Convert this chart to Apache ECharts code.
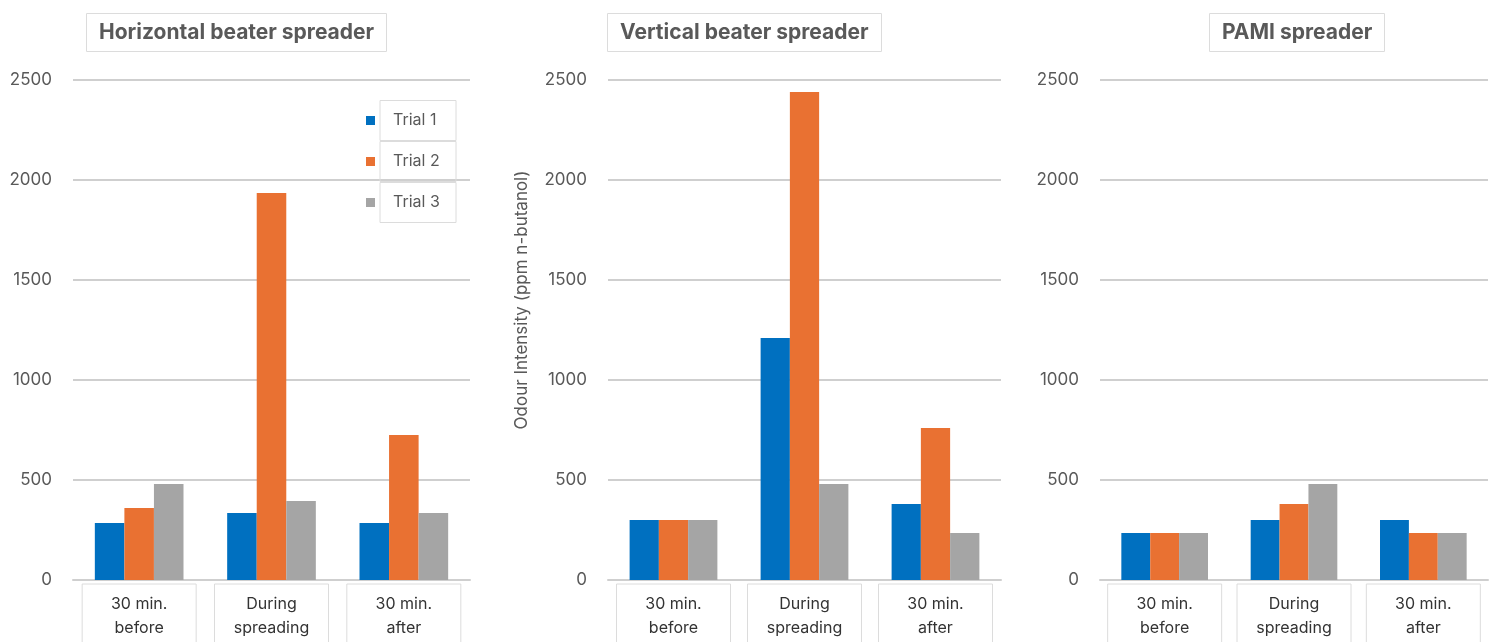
<!DOCTYPE html>
<html>
<head>
<meta charset="utf-8">
<script src="https://cdn.jsdelivr.net/npm/echarts@6/dist/echarts.min.js"></script>
<style>
  html, body { margin: 0; padding: 0; background: #fff; }
  #chart { width: 1489px; height: 642px; }
</style>
</head>
<body>
<div id="chart"></div>
<script>
// 数据
const categories = ['30 min.\nbefore', 'During\nspreading', '30 min.\nafter']
const panelTitles = ['Horizontal beater spreader', 'Vertical beater spreader', 'PAMI spreader']
const trialNames = ['Trial 1', 'Trial 2', 'Trial 3']
const trialColors = ['#0070C0', '#E97132', '#A5A5A5']

// 每个面板: Trial 1 / 2 / 3
const horizontalT1 = [285, 335, 285]
const horizontalT2 = [360, 1935, 725]
const horizontalT3 = [480, 395, 335]

const verticalT1 = [300, 1210, 380]
const verticalT2 = [300, 2440, 760]
const verticalT3 = [300, 480, 235]

const pamiT1 = [235, 300, 300]
const pamiT2 = [235, 380, 235]
const pamiT3 = [235, 480, 235]

const panelData = [
  [horizontalT1, horizontalT2, horizontalT3],
  [verticalT1, verticalT2, verticalT3],
  [pamiT1, pamiT2, pamiT3]
]

const yMax = 2500
const yInterval = 500
const yAxisName = 'Odour Intensity (ppm n-butanol)'

const fontFamily = 'Inter, "Open Sans", sans-serif'
const textGray = '#595959'
const lineGray = '#cfcfcf'
const boxGray = '#dcdcdc'

// 布局
const grids = [
  { left: 73, right: 1019, top: 80, bottom: 62, outerBoundsMode: 'none' },
  { left: 608, right: 488, top: 80, bottom: 62, outerBoundsMode: 'none' },
  { left: 1100, right: 1, top: 80, bottom: 62, outerBoundsMode: 'none' }
]
const titleLefts = [86, 607, 1209]

const chart = echarts.init(document.getElementById('chart'))

const option = {
  animation: false,
  textStyle: { fontFamily },
  title: panelTitles.map((t, i) => ({
    text: t,
    left: titleLefts[i],
    top: 13,
    padding: [9, 13],
    borderColor: boxGray,
    borderWidth: 1,
    textStyle: { fontSize: 21, fontWeight: 'bold', color: textGray, fontFamily }
  })),
  legend: {
    data: trialNames,
    orient: 'vertical',
    left: 361,
    top: 95,
    itemGap: 0,
    itemWidth: 9,
    itemHeight: 9,
    icon: 'rect',
    textStyle: {
      fontSize: 16,
      color: textGray,
      fontFamily,
      borderColor: boxGray,
      borderWidth: 1,
      width: 50,
      height: 20,
      lineHeight: 20,
      padding: [10, 13]
    }
  },
  grid: grids,
  xAxis: grids.map((g, i) => ({
    type: 'category',
    gridIndex: i,
    data: categories,
    axisTick: { show: false },
    axisLine: { lineStyle: { color: lineGray, width: 2 } },
    axisLabel: {
      interval: 0,
      margin: 4,
      width: 114,
      height: 70,
      padding: [8, 0, 0, 0],
      lineHeight: 24,
      align: 'center',
      verticalAlign: 'top',
      color: '#333',
      fontSize: 16,
      fontFamily,
      borderColor: boxGray,
      borderWidth: 1
    }
  })),
  yAxis: grids.map((g, i) => ({
    type: 'value',
    gridIndex: i,
    min: 0,
    max: yMax,
    interval: yInterval,
    name: i === 1 ? yAxisName : '',
    nameLocation: 'middle',
    nameGap: 78,
    nameTextStyle: { fontSize: 17, color: textGray, fontFamily, padding: [0, 0, 0, 60] },
    axisLine: { show: false },
    axisTick: { show: false },
    axisLabel: { margin: 21, fontSize: 17, color: textGray, fontFamily, formatter: v => String(v) },
    splitLine: { lineStyle: { color: lineGray, width: 2 } }
  })),
  series: []
}

panelData.forEach((trials, p) => {
  trials.forEach((values, t) => {
    option.series.push({
      name: trialNames[t],
      type: 'bar',
      xAxisIndex: p,
      yAxisIndex: p,
      data: values,
      barGap: '0%',
      barCategoryGap: '33%',
      itemStyle: { color: trialColors[t] }
    })
  })
})

chart.setOption(option)
</script>
</body>
</html>
